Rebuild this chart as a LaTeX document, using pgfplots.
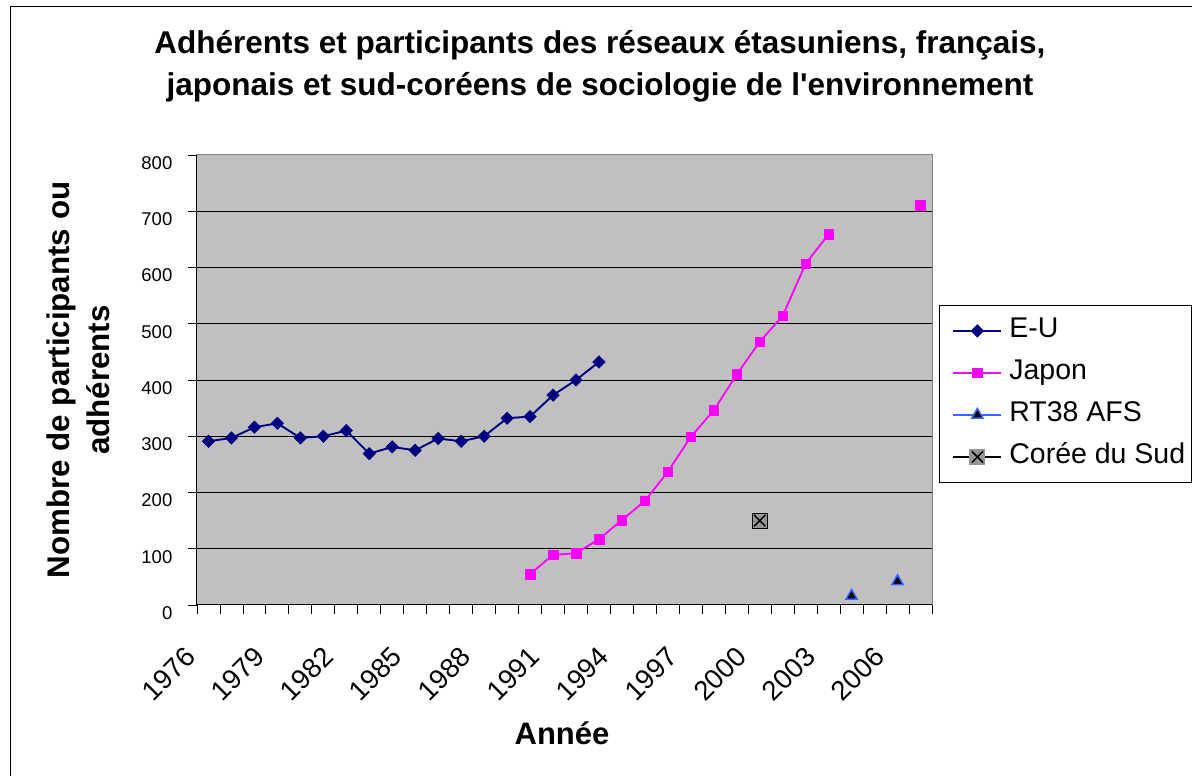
\documentclass[border=0pt]{standalone}
\usepackage{fontspec}
\setmainfont{Liberation Sans}[Ligatures=TeXOff]
\usepackage{pgfplots}
\pgfplotsset{compat=1.18}
\definecolor{navy}{HTML}{000080}
\definecolor{mag}{HTML}{FF00FF}
\definecolor{rtblue}{HTML}{3366FF}
\definecolor{plotgray}{HTML}{C0C0C0}
\definecolor{kgray}{HTML}{969696}
\definecolor{bordergray}{HTML}{808080}
\begin{document}
\begin{tikzpicture}[x=1pt,y=1pt]
\begin{axis}[
 at={(197pt,171pt)}, anchor=south west,
 scale only axis, width=735pt, height=450pt,
 xmin=1975.5, xmax=2007.5, ymin=0, ymax=800,
 axis background/.style={fill=plotgray},
 axis line style={bordergray, line width=1pt},
 ytick={0,100,...,800},
 xtick={1975.5,1976.5,...,2007.5},
 xticklabels={},
 extra x ticks={1976,1979,...,2006},
 extra x tick labels={1976,1979,1982,1985,1988,1991,1994,1997,2000,2003,2006},
 extra x tick style={major tick length=0pt},
 extra y ticks={100,200,...,700},
 extra y tick labels={},
 extra y tick style={grid=major, major tick length=0pt},
 grid style={black, line width=0.9pt},
 tick align=outside,
 tick pos=left,
 major tick length=9pt,
 tick style={black, line width=0.8pt},
 xticklabel style={font=\fontsize{27.5pt}{31pt}\selectfont, inner sep=0pt, xshift=-18pt, yshift=-47pt, rotate=45, anchor=east},
 yticklabel style={font=\fontsize{18.5pt}{22pt}\selectfont, inner sep=0pt, xshift=-15.5pt, yshift=-8pt, anchor=east},
 /pgf/number format/assume math mode=true,
 title={Adhérents et participants des réseaux étasuniens, français,\\japonais et sud-coréens de sociologie de l'environnement},
 title style={align=center, font=\bfseries\fontsize{31.5pt}{42.5pt}\selectfont, at={(axis description cs:0.5483,1.1184)}, anchor=base},
 ylabel={Nombre de participants ou\\adhérents},
 ylabel style={align=center, font=\bfseries\fontsize{31.3pt}{40pt}\selectfont, at={(axis description cs:-0.162,0.5)}, anchor=center},
 xlabel={Année},
 xlabel style={font=\bfseries\fontsize{31pt}{34pt}\selectfont, at={(axis description cs:0.4966,-0.311)}, anchor=base},
 legend style={at={(axis description cs:1.0095,0.6667)}, anchor=north west, draw=black, line width=0.9pt, fill=white,
   font=\fontsize{28.5pt}{34pt}\selectfont, nodes={inner sep=0pt, text height=20pt, text depth=6pt}, row sep=16pt, column sep=7pt, inner xsep=6pt, inner ysep=12.5pt},
 legend cell align=left,
 legend image code/.code={\path (-7pt,0pt); \draw[mark repeat=2,mark phase=2] plot coordinates {(0pt,0pt)(24pt,0pt)(48pt,0pt)};},
 unbounded coords=jump,
 clip=false,
]
\addplot[color=navy, line width=1.9pt, mark=square*, mark size=4.4pt, mark options={rotate=45, fill=navy, draw=navy, line width=0.5pt}] coordinates {
(1976,291) (1977,297) (1978,316) (1979,323) (1980,297) (1981,300) (1982,310) (1983,269) (1984,281)
(1985,275) (1986,296) (1987,291) (1988,300) (1989,332) (1990,335) (1991,373) (1992,400) (1993,432)};
\addlegendentry{E-U}
\addplot[color=mag, line width=1.8pt, mark=square*, mark size=4.8pt, mark options={fill=mag, draw=mag, line width=0.5pt}] coordinates {
(1990,55) (1991,89) (1992,92) (1993,117) (1994,151) (1995,185) (1996,237) (1997,299) (1998,346)
(1999,410) (2000,468) (2001,514) (2002,607) (2003,659) (2004,nan) (2007,711)};
\addlegendentry{Japon}
\addplot[color=rtblue, line width=1.6pt, mark=triangle*, mark size=6.5pt, mark options={fill=black, draw=rtblue, line width=1.5pt}] coordinates {
(2004,16) (2005,nan) (2006,42)};
\addlegendentry{RT38 AFS}
\addplot[forget plot, only marks, mark=square*, mark size=7.5pt, mark options={fill=kgray, draw=none}] coordinates {(2000,150)};
\addplot[black, line width=1.2pt, mark=x, mark size=8pt, mark options={line width=1.5pt},
 legend image code/.code={\path (-7pt,0pt); \draw[black, line width=1.2pt] (0pt,0pt) -- (48pt,0pt);
   \fill[kgray] (16.5pt,-7.5pt) rectangle (31.5pt,7.5pt);
   \draw[black, line width=1.5pt] (18.4pt,-5.6pt) -- (29.6pt,5.6pt) (18.4pt,5.6pt) -- (29.6pt,-5.6pt);}] coordinates {(2000,150)};
\addlegendentry{Corée du Sud}
\draw[black, line width=1pt] (rel axis cs:0,1) -- (rel axis cs:0,0) -- (rel axis cs:1,0);
\end{axis}
\draw[black, line width=1pt] (10,0) -- (10,769) -- (1192,769);
\pgfresetboundingbox
\path[use as bounding box] (0,0) rectangle (1192,776);
\end{tikzpicture}
\end{document}
